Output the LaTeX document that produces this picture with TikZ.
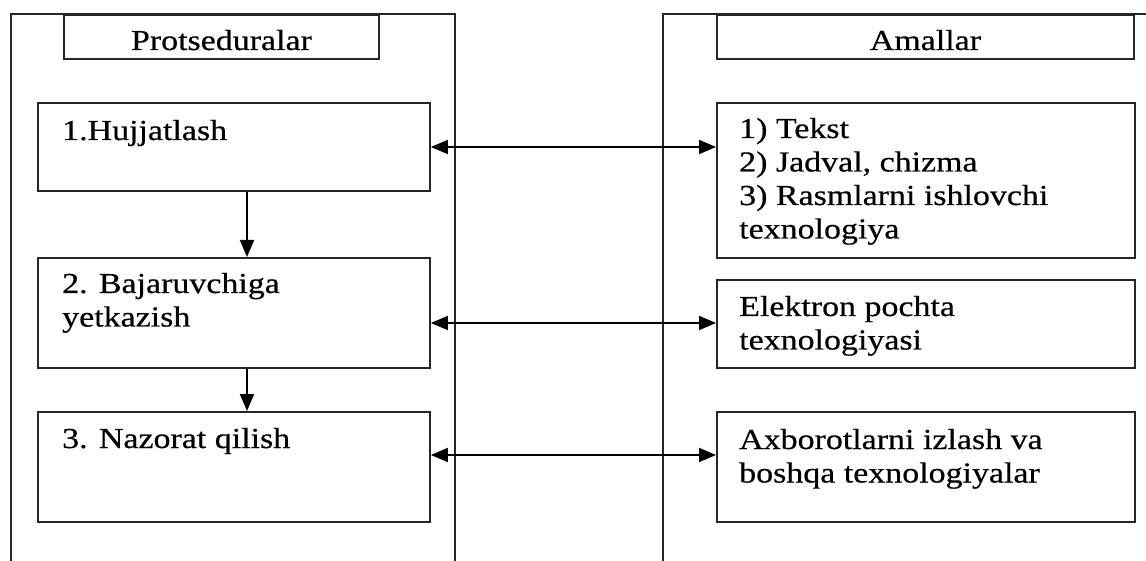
\documentclass[tikz,border=0pt]{standalone}
\usepackage{fontspec}
\setmainfont{Liberation Serif}[FakeStretch=1.17,FakeBold=0.5]
\usetikzlibrary{arrows.meta}

\begin{document}
\begin{tikzpicture}[x=1pt,y=-1pt,
  frame/.style={draw=black!85, line width=1.9pt},
  box/.style={draw=black!85, line width=1.9pt, anchor=north west, inner sep=0pt},
  txt/.style={anchor=base west, inner sep=0pt, font=\fontsize{29}{33.5}\selectfont},
  ttl/.style={anchor=base, inner sep=0pt, font=\fontsize{29}{33.5}\selectfont},
  tip/.tip={Triangle[length=17pt,width=14pt]},
  link/.style={line width=1.9pt, -tip},
  both/.style={line width=1.9pt, tip-tip}]

\useasboundingbox (0,0) rectangle (1146,561);

% outer frames (open at the bottom / right)
\draw[frame] (11,561) -- (11,14) -- (455,14) -- (455,561);
\draw[frame] (663,561) -- (663,14) -- (1146,14);

% column headers
\node[box, minimum width=315pt, minimum height=44pt] (t1) at (63,14) {};
\node[box, minimum width=417pt, minimum height=44pt] (t2) at (716,14) {};
\node[ttl] at ([yshift=-36pt]t1.north) {Protseduralar};
\node[ttl] at ([yshift=-36pt]t2.north) {Amallar};

% procedure boxes
\node[box, minimum width=392pt, minimum height=88pt]  (p1) at (37,102) {};
\node[box, minimum width=392pt, minimum height=110pt] (p2) at (37,257) {};
\node[box, minimum width=392pt, minimum height=110pt] (p3) at (37,411) {};

% action boxes
\node[box, minimum width=418pt, minimum height=155pt] (a1) at (716,102) {};
\node[box, minimum width=418pt, minimum height=88pt]  (a2) at (716,279) {};
\node[box, minimum width=418pt, minimum height=110pt] (a3) at (716,411) {};

% box texts
\node[txt] at ([shift={(25,38)}]p1.north west) {1.Hujjatlash};
\node[txt] at ([shift={(25,36)}]p2.north west)
  {\begin{tabular}[t]{@{}l@{}}2. Bajaruvchiga\\yetkazish\end{tabular}};
\node[txt] at ([shift={(25,37)}]p3.north west) {3. Nazorat qilish};

\node[txt] at ([shift={(23,36)}]a1.north west)
  {\begin{tabular}[t]{@{}l@{}}1) Tekst\\2) Jadval, chizma\\3) Rasmlarni ishlovchi\\texnologiya\end{tabular}};
\node[txt] at ([shift={(23,37)}]a2.north west)
  {\begin{tabular}[t]{@{}l@{}}Elektron pochta\\texnologiyasi\end{tabular}};
\node[txt] at ([shift={(23,38)}]a3.north west)
  {\begin{tabular}[t]{@{}l@{}}Axborotlarni izlash va\\boshqa texnologiyalar\end{tabular}};

% connectors
\coordinate (col) at (247,0);
\coordinate (r1) at (0,147);
\coordinate (r2) at (0,323);
\coordinate (r3) at (0,455);

\draw[link] (p1.south -| col) -- (p2.north -| col);
\draw[link] (p2.south -| col) -- (p3.north -| col);

\draw[both] (p1.east |- r1) -- (a1.west |- r1);
\draw[both] (p2.east |- r2) -- (a2.west |- r2);
\draw[both] (p3.east |- r3) -- (a3.west |- r3);
\end{tikzpicture}
\end{document}
